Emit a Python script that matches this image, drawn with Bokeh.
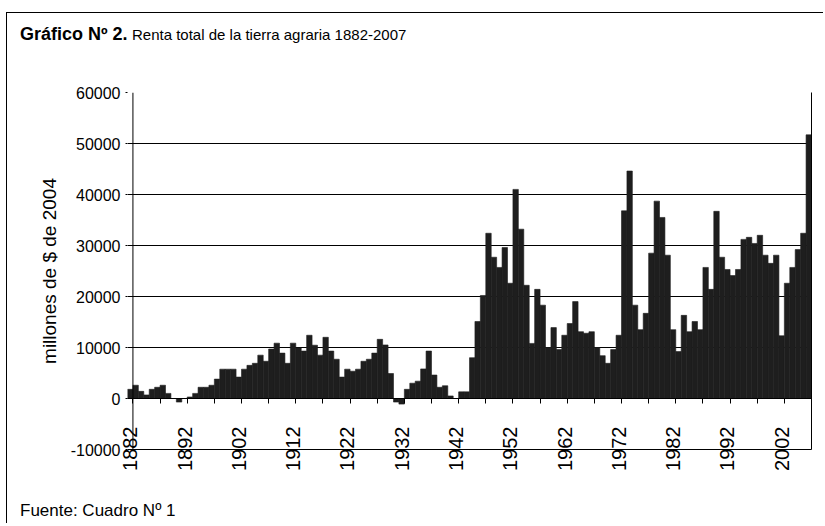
import numpy as np
from bokeh.plotting import figure
from bokeh.models import Range1d, LinearAxis, FixedTicker, Span, Div
from bokeh.layouts import column
from bokeh.embed import file_html
from bokeh.resources import INLINE

# ---- data ----
years = list(range(1882, 2008))
renta = [
    1800, 2600, 1400, 700, 1800, 2200, 2600, 1000, 0, -700,          # 1882-1891
    0, 300, 1000, 2200, 2200, 2600, 3800, 5750, 5750, 5750,           # 1892-1901
    4200, 5750, 6500, 6900, 8500, 7300, 9700, 10850, 8900, 6900,      # 1902-1911
    10850, 9900, 9300, 12400, 10450, 8500, 12000, 9300, 7700, 4200,   # 1912-1921
    5750, 5350, 5750, 7300, 7700, 8900, 11600, 10500, 4900, -700,     # 1922-1931
    -1100, 1800, 3000, 3400, 5800, 9300, 4600, 2200, 2500, 500,       # 1932-1941
    0, 1300, 1300, 8000, 15100, 20200, 32400, 27700, 25700, 29600,    # 1942-1951
    22600, 41000, 33200, 22200, 10800, 21400, 18300, 10000, 13900, 9600,  # 1952-1961
    12400, 14700, 19000, 13100, 12800, 13100, 10000, 8400, 6900, 9600,    # 1962-1971
    12400, 36800, 44600, 18300, 13500, 16700, 28500, 38700, 35500, 28100, # 1972-1981
    13500, 9200, 16300, 13100, 15100, 13500, 25700, 21400, 36700, 27700,  # 1982-1991
    25300, 24100, 25300, 31200, 31600, 30400, 32000, 28100, 26500, 28100, # 1992-2001
    12300, 22600, 25700, 29200, 32400, 51700,                              # 2002-2007
]
y_ticks = [-10000, 0, 10000, 20000, 30000, 40000, 50000, 60000]
y_tick_labels = ["-10000", "0", "10000", "20000", "30000", "40000", "50000", "60000"]
label_years = years[::10]
title_bold = "Gráfico Nº 2."
title_rest = "Renta total de la tierra agraria 1882-2007"
y_title = "millones de $ de 2004"
source_note = "Fuente: Cuadro Nº 1"

assert len(years) == len(renta)

FONT = "Liberation Sans"
half = 0.5
boundaries = [y + half for y in years[::5]]

p = figure(width=816, height=440, output_backend="svg", toolbar_location=None,
           x_range=Range1d(years[0] - half, years[-1] + half),
           y_range=Range1d(y_ticks[0], y_ticks[-1]),
           min_border_left=120, min_border_right=12,
           min_border_top=39, min_border_bottom=44, margin=0)
p.outline_line_color = None
p.background_fill_color = "white"
p.border_fill_color = "white"

p.vbar(x=years, top=renta, bottom=0, width=1.0,
       fill_color="#1e1e1e", line_color="#1e1e1e", line_width=0.6)

# value axis: labels at the left of the plot area
ya = p.yaxis[0]
ya.ticker = FixedTicker(ticks=y_ticks)
ya.major_label_overrides = dict(zip(y_ticks, y_tick_labels))
ya.axis_line_color = None
ya.major_tick_out = 2
ya.major_tick_in = 0
ya.major_label_standoff = 5
ya.minor_tick_line_color = None
ya.major_tick_line_color = "black"
ya.major_label_text_font = FONT
ya.major_label_text_font_size = "16px"
ya.major_label_text_color = "black"
ya.axis_label = y_title
ya.axis_label_text_font = FONT
ya.axis_label_text_font_size = "19px"
ya.axis_label_text_font_style = "normal"
ya.axis_label_text_color = "black"
ya.axis_label_standoff = 8

# value axis line crossing between first and second category
p.add_layout(Span(location=years[0] + half, dimension="height",
                  line_color="black", line_width=1))

# bottom axis: year labels
xa = p.xaxis[0]
xa.ticker = FixedTicker(ticks=label_years)
xa.major_tick_out = 0
xa.major_tick_in = 0
xa.minor_tick_line_color = None
xa.axis_line_color = "black"
xa.major_label_orientation = np.pi / 2
xa.major_label_standoff = -23
xa.major_label_text_font = FONT
xa.major_label_text_font_size = "20px"
xa.major_label_text_color = "black"

p.xgrid.visible = False
p.ygrid.grid_line_color = "black"
p.ygrid.grid_line_width = 1

# category axis line at 0 with tick marks every 5 categories
zero_axis = LinearAxis(fixed_location=0,
                       ticker=FixedTicker(ticks=[], minor_ticks=boundaries),
                       axis_line_color="black", major_tick_out=0, major_tick_in=0,
                       minor_tick_out=5, minor_tick_in=0,
                       minor_tick_line_color="black")
p.add_layout(zero_axis, "below")

# right border of plot area
right_axis = LinearAxis(ticker=FixedTicker(ticks=[]), axis_line_color="black",
                        major_tick_out=0, major_tick_in=0,
                        minor_tick_line_color=None)
p.add_layout(right_axis, "right")

txt = "font-family:'Liberation Sans'; color:black; white-space:nowrap; position:absolute;"
title_div = Div(width=816, height=40, margin=0, text=(
    f'<div style="position:relative; width:816px; height:40px;">'
    f'<span style="{txt} left:13px; top:9px; font-size:18px; font-weight:bold;">{title_bold}</span>'
    f'<span style="{txt} left:125px; top:11px; font-size:15px;">{title_rest}</span>'
    f'</div>'))
note_div = Div(width=816, height=30, margin=0, text=(
    f'<div style="position:relative; width:816px; height:30px;">'
    f'<span style="{txt} left:13px; top:6px; font-size:17px;">{source_note}</span>'
    f'</div>'))

layout = column(title_div, p, note_div, spacing=0)
layout.styles = {"border-top": "1px solid black", "border-left": "1px solid black",
                 "margin-left": "6px", "margin-top": "12px"}

open("out.html", "w").write(file_html(layout, INLINE))
